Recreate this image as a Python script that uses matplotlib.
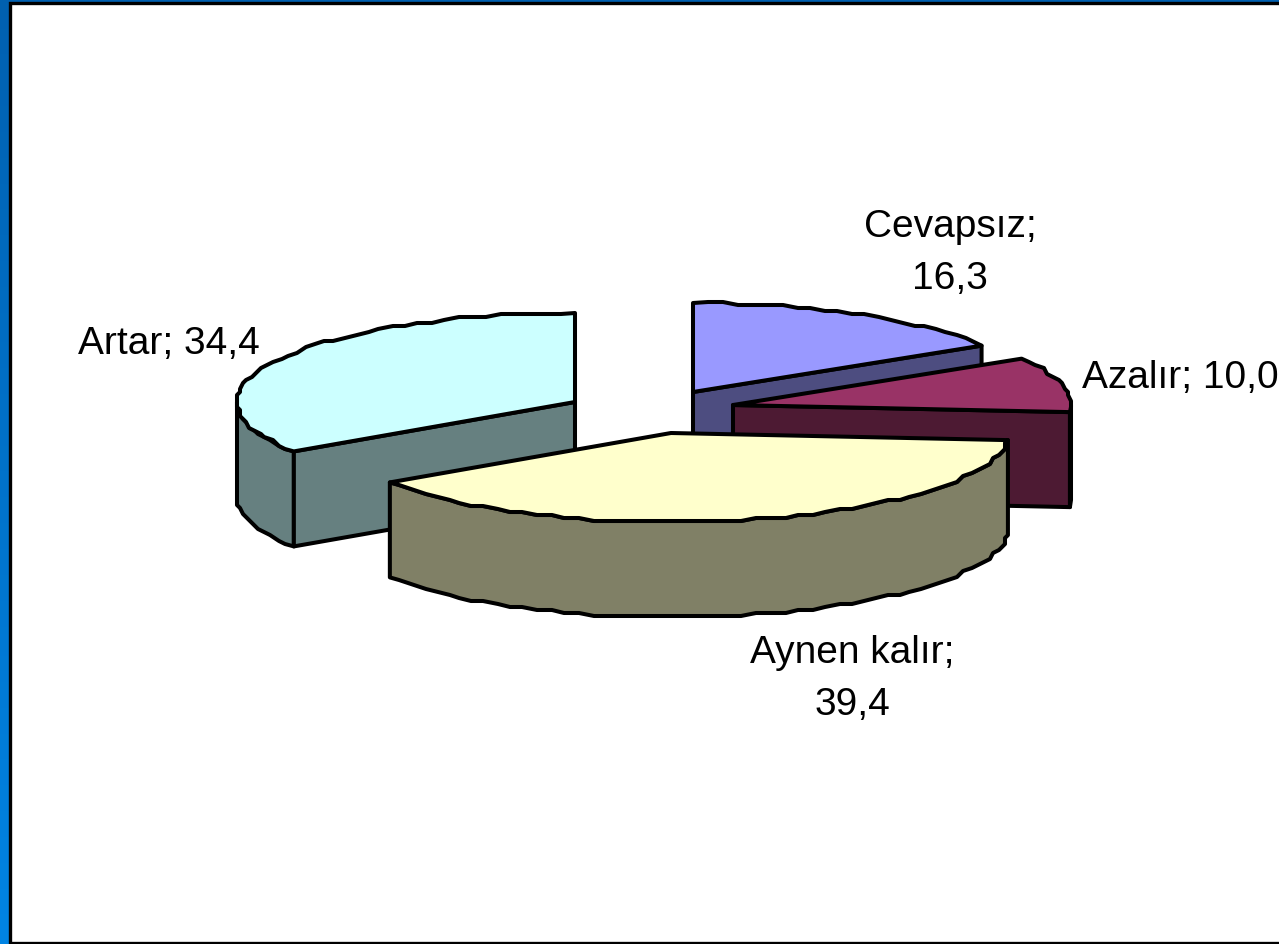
import numpy as np
import matplotlib
matplotlib.use('Agg')
import matplotlib.pyplot as plt
from matplotlib.patches import Polygon, Rectangle

labels = ['Cevapsız', 'Azalır', 'Aynen kalır', 'Artar']
values = [16.3, 10.0, 39.4, 34.4]
top_colors = ['#9999FF', '#993366', '#FFFFCC', '#CCFFFF']
side_colors = ['#4D4D80', '#4D1A33', '#808066', '#668080']

# slice apex in pixels, the pie is exploded so each one has its own
centers = [(693, 393), (733, 406), (671, 434), (575, 403)]
draw_order = [0, 1, 3, 2]
rx, ry, depth = 338, 89, 95
STEP = 2.5
LW = 2.9

plt.rcParams['font.family'] = ['Liberation Sans', 'DejaVu Sans']

fig = plt.figure(figsize=(12.79, 9.45), dpi=100)
ax = fig.add_axes([0, 0, 1, 1])
ax.set_xlim(0, 1279)
ax.set_ylim(945, 0)
ax.axis('off')

# blue frame with a vertical gradient behind the white plot area
grad = np.linspace(0, 1, 256).reshape(-1, 1)
c0 = np.array([0x00, 0x60, 0xB0]) / 255
c1 = np.array([0x00, 0x84, 0xE4]) / 255
img = c0 + (c1 - c0) * grad[:, :, None]
ax.imshow(img, extent=(0, 1279, 945, 0), aspect='auto', zorder=0)
ax.set_xlim(0, 1279)
ax.set_ylim(945, 0)
ax.add_patch(Rectangle((9.5, 4), 1275, 939.5, fc='white', ec='black', lw=2.4, zorder=1))


def rim(cx, cy, a0, a1):
    n = max(int(abs(a1 - a0) / STEP), 1)
    ang = np.radians(np.linspace(a0, a1, n + 1))
    x = cx + rx * np.sin(ang)
    y = cy - ry * np.cos(ang)
    # coarse pixel grid, the reference outline is stepped
    x[1:-1] = np.round(x[1:-1] / 3) * 3
    y[1:-1] = np.round(y[1:-1] / 3) * 3
    return np.column_stack([x, y])


def face(pts, color, z):
    ax.add_patch(Polygon(pts, closed=True, fc=color, ec='black', lw=LW,
                         joinstyle='round', zorder=z))


edges = np.concatenate([[0], np.cumsum(values)]) / np.sum(values) * 360
z = 2
for i in draw_order:
    cx, cy = centers[i]
    a0, a1 = edges[i], edges[i + 1]
    down = np.array([0, depth])
    apex = np.array([cx, cy])
    # outer wall, only the part below the centre faces the viewer
    w0, w1 = max(a0, 90), min(a1, 270)
    if w1 > w0:
        arc = rim(cx, cy, w0, w1)
        face(np.vstack([arc, arc[::-1] + down]), side_colors[i], z)
    # radial cut faces
    if np.sin(np.radians(a0)) < -1e-6:
        p = rim(cx, cy, a0, a0 + 0.001)[0]
        face([apex, p, p + down, apex + down], side_colors[i], z)
    if np.sin(np.radians(a1)) > 1e-6:
        p = rim(cx, cy, a1 - 0.001, a1)[-1]
        face([apex, p, p + down, apex + down], side_colors[i], z)
    face(np.vstack([apex, rim(cx, cy, a0, a1)]), top_colors[i], z + 0.5)
    z += 1

FS = 28
fmt = lambda v: f'{v:.1f}'.replace('.', ',')
ax.text(950, 253, f'{labels[0]};\n{fmt(values[0])}', ha='center', va='center',
        fontsize=FS, linespacing=1.55, color='black', zorder=10)
ax.text(1082, 378, f'{labels[1]}; {fmt(values[1])}', ha='left', va='center',
        fontsize=FS, color='black', zorder=10, clip_on=True)
ax.text(852, 679, f'{labels[2]};\n{fmt(values[2])}', ha='center', va='center',
        fontsize=FS, linespacing=1.55, color='black', zorder=10)
ax.text(78, 344, f'{labels[3]}; {fmt(values[3])}', ha='left', va='center',
        fontsize=FS, color='black', zorder=10)

fig.savefig('out.png', dpi=100)
